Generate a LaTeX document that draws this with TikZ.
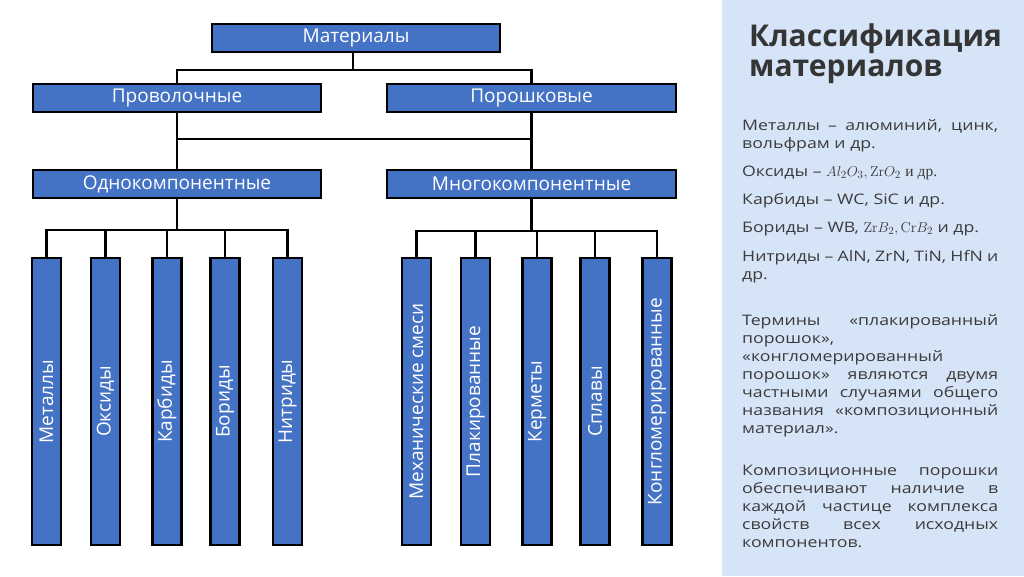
\documentclass[tikz,border=0pt]{standalone}
\usepackage{graphicx}
\usepackage[no-math]{fontspec}
\setmainfont{Open Sans}
\newfontfamily\bodyfont[FakeStretch=1.22]{Open Sans}
\newfontfamily\serifru{Liberation Serif}
\definecolor{boxblue}{HTML}{4472C4}
\definecolor{panel}{RGB}{214,228,247}
\definecolor{ptext}{HTML}{3B3B3B}
\newcommand\jl[1]{\makebox[256pt][s]{#1}}
\newcommand\mth[1]{{\fontsize{15.5}{18}\selectfont$#1$}}
\begin{document}
\begin{tikzpicture}[x=1pt,y=-1pt,
  hbox/.style={draw=black,line width=2.2pt,fill=boxblue,text=white,minimum width=288pt,minimum height=28pt,inner sep=0pt,font=\fontsize{19}{22}\selectfont},
  vbox/.style={draw=black,line width=2.2pt,fill=boxblue,text=white,minimum width=29pt,minimum height=287pt,inner sep=0pt,font=\fontsize{19}{22}\selectfont},
  conn/.style={line width=2.2pt,draw=black},
  ptxt/.style={anchor=north west,inner sep=0pt,align=left,text=ptext,font=\fontsize{14.5}{18}\bodyfont}]
\useasboundingbox (0,0) rectangle (1024,576);
\fill[panel] (722,0) rectangle (1024,576);
% top level boxes
\node[hbox] (mat) at (356,38) {Материалы};
\node[hbox] (pro) at (177,98) {Проволочные};
\node[hbox,minimum width=289pt] (por) at (531.5,98) {Порошковые};
\node[hbox] (odn) at (177,184) {Однокомпонентные};
\node[hbox,minimum width=289pt] (mno) at (531.5,184) {Многокомпонентные};
% columns
\node[vbox] (c1) at (46.5,401.5) {\rotatebox{90}{Металлы}};
\node[vbox] (c2) at (105.5,401.5) {\rotatebox{90}{Оксиды}};
\node[vbox] (c3) at (167,401.5) {\rotatebox{90}{Карбиды}};
\node[vbox] (c4) at (225,401.5) {\rotatebox{90}{Бориды}};
\node[vbox] (c5) at (287.5,401.5) {\rotatebox{90}{Нитриды}};
\node[vbox] (d1) at (416.5,401.5) {\rotatebox{90}{Механические смеси}};
\node[vbox] (d2) at (475.5,401.5) {\rotatebox{90}{Плакированные}};
\node[vbox] (d3) at (537,401.5) {\rotatebox{90}{Керметы}};
\node[vbox] (d4) at (595,401.5) {\rotatebox{90}{Сплавы}};
\node[vbox] (d5) at (657,401.5) {\rotatebox{90}{Конгломерированные}};
% connectors
\coordinate (j1) at (353,70);
\coordinate (j2) at (354,139);
\coordinate (j3) at (177,230);
\coordinate (j4) at (531.5,231);
\draw[conn] ([xshift=-3pt]mat.south) -- (j1);
\draw[conn] (pro.north) |- (j1) -| (por.north);
\draw[conn] (pro.south) -- (odn.north);
\draw[conn] (por.south) -- (mno.north);
\draw[conn] (pro.south |- j2) -- (por.south |- j2);
\draw[conn] (odn.south) -- (j3);
\draw[conn] (mno.south) -- (j4);
\draw[conn] (c1.north) |- (j3) -| (c5.north);
\draw[conn] (d1.north) |- (j4) -| (d5.north);
\foreach \n in {c2,c3,c4}{\draw[conn] (\n.north) -- (\n.north |- j3);}
\foreach \n in {d2,d3,d4}{\draw[conn] (\n.north) -- (\n.north |- j4);}
% panel text
\node[anchor=north west,inner sep=0pt,align=left,text=ptext!90!black,font=\fontsize{30}{30}\selectfont\bfseries] (title) at (749,24) {\strut Классификация\\материалов};
\node[ptxt] (p1) at (742,117.4) {\strut\jl{Металлы – алюминий, цинк,}\\вольфрам и др.};
\node[ptxt] (p2) at (742,163.4) {\strut Оксиды – \mth{Al_2O_3, \mathrm{Zr}O_2} {\fontsize{15.5}{18}\serifru и др.}};
\node[ptxt] (p3) at (742,191.4) {\strut Карбиды – WC, SiC и др.};
\node[ptxt] (p4) at (742,219.4) {\strut Бориды – WB, \mth{\mathrm{Zr}B_2, \mathrm{Cr}B_2} и др.};
\node[ptxt] (p5) at (742,248.4) {\strut\jl{Нитриды – AlN, ZrN, TiN, HfN и}\\др.};
\node[ptxt] (p6) at (742,312.4) {\strut\jl{Термины «плакированный}\\порошок»,\\«конгломерированный\\\jl{порошок» являются двумя}\\\jl{частными случаями общего}\\\jl{названия «композиционный}\\материал».};
\node[ptxt] (p7) at (742,462.4) {\strut\jl{Композиционные порошки}\\\jl{обеспечивают наличие в}\\\jl{каждой частице комплекса}\\\jl{свойств всех исходных}\\компонентов.};
\end{tikzpicture}
\end{document}
